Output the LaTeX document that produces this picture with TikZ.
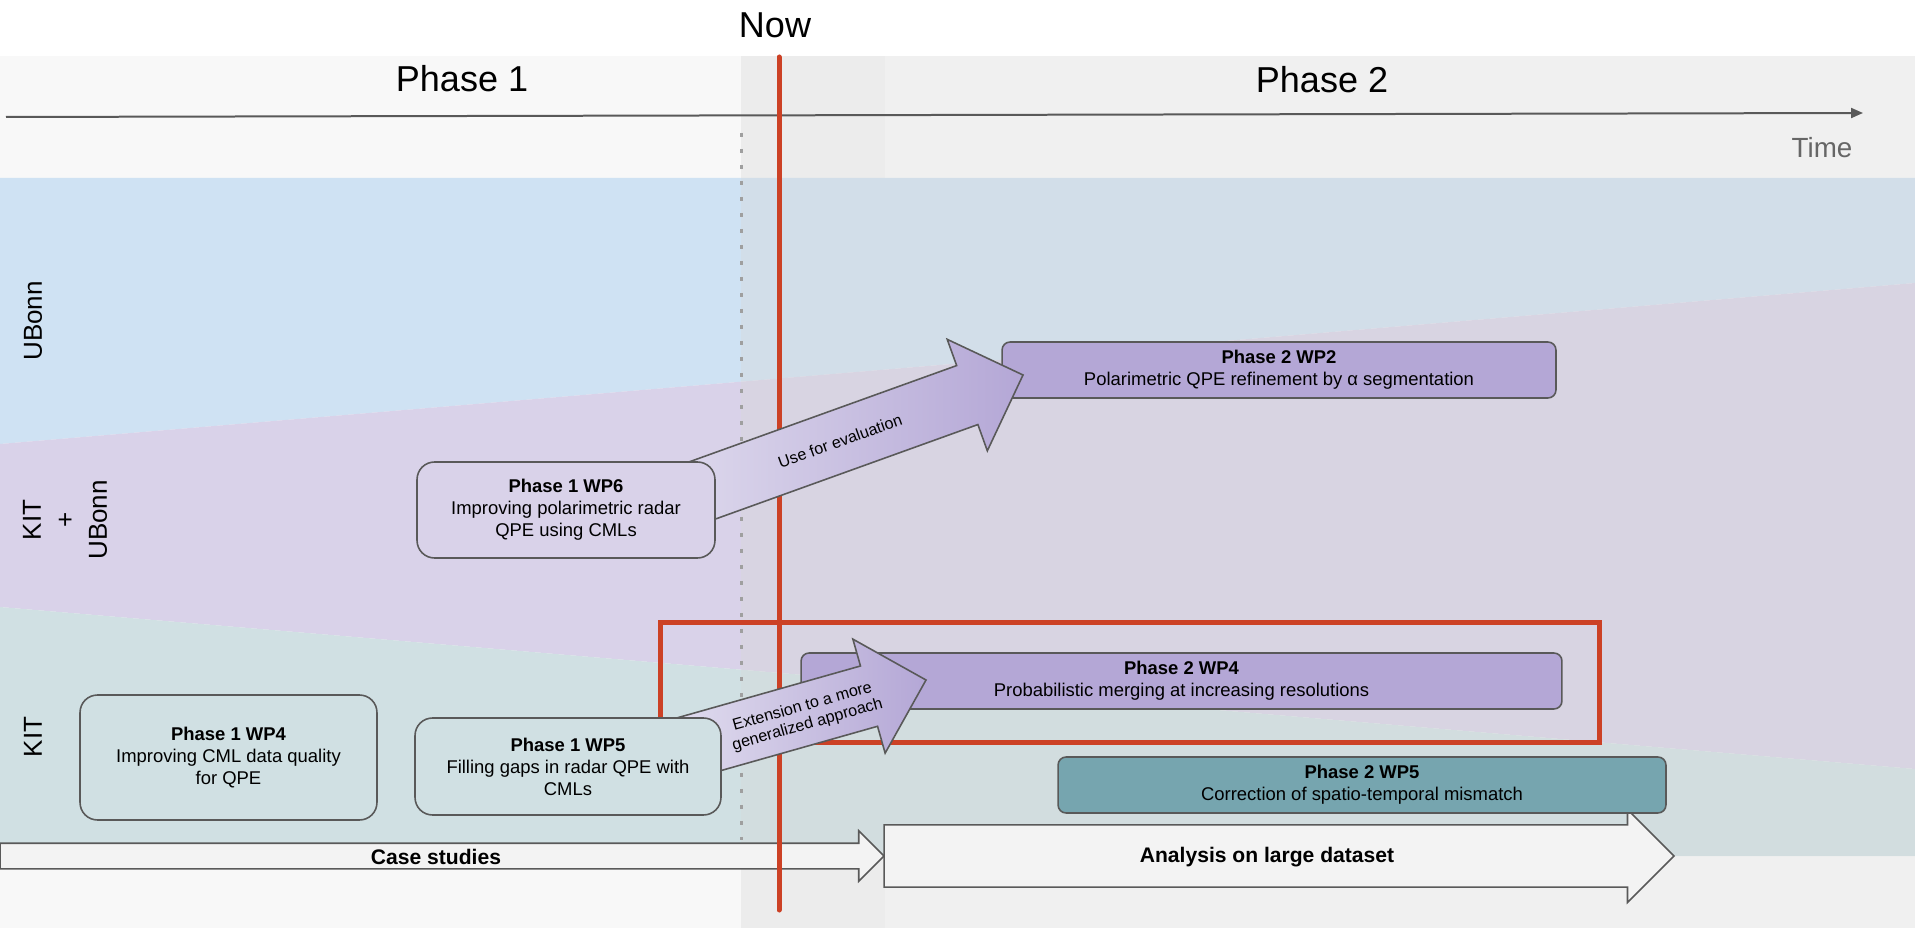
\documentclass[tikz,border=0pt]{standalone}
\usepackage{fontspec}
\setmainfont{Liberation Sans}
\usepackage{xcolor}
\usepackage{tikz}
\usetikzlibrary{shapes.arrows,arrows.meta}

\definecolor{edgegray}{HTML}{595959}
\definecolor{phaseone}{HTML}{F8F8F8}
\definecolor{phasetwo}{HTML}{D8D8D8}
\definecolor{bonnblue}{HTML}{CFE2F3}
\definecolor{mixlilac}{HTML}{D9D2E9}
\definecolor{kitteal}{HTML}{D0E0E3}
\definecolor{wplilac}{HTML}{B4A7D6}
\definecolor{paleliac}{HTML}{E0DCEE}
\definecolor{wpteal}{HTML}{76A5AF}
\definecolor{nowred}{HTML}{CC4125}
\definecolor{spangray}{HTML}{F3F3F3}
\definecolor{timegray}{HTML}{666666}

\begin{document}
\begin{tikzpicture}[x=0.02cm,y=-0.02cm,
        boxfont/.style={font=\fontsize{10.5}{12.5}\selectfont},
        p1box/.style={boxfont,draw=edgegray,line width=0.9pt,rounded corners=0.35cm,align=center,inner sep=0pt},
        p2box/.style={boxfont,draw=edgegray,line width=0.9pt,rounded corners=0.16cm,align=center,inner sep=0pt,minimum height=1.12cm},
        bigarrow/.style={single arrow,anchor=tip,draw=edgegray,line width=0.9pt,left color=paleliac,right color=wplilac,
            inner xsep=0pt,inner ysep=0.265cm,outer sep=0pt,minimum width=2.37cm},
        spanarrow/.style={single arrow,anchor=tip,draw=edgegray,line width=0.9pt,fill=spangray,inner xsep=0pt,outer sep=0pt},
        lane/.style={rotate=90,align=center,font=\fontsize{14.8}{18.8}\selectfont},
        title/.style={font=\fontsize{20.5}{24}\selectfont},
        arrowtext/.style={align=center,font=\fontsize{9.2}{10.5}\selectfont},
        spantext/.style={font=\fontsize{12}{14}\selectfont\bfseries}]
        % Background
        \fill[white] (0,0) rectangle (1915,928);
        \useasboundingbox (0,0) rectangle (1915,928);
        \fill[phaseone] (0,56) rectangle (885,928);
        % Lanes
        \fill[bonnblue] (0,178) -- (1915,178) -- (1915,283) -- (0,444) -- cycle;
        \fill[mixlilac] (0,444) -- (1915,283) -- (1915,769) -- (0,607) -- cycle;
        \fill[kitteal] (0,607) -- (1915,769) -- (1915,856) -- (0,856) -- cycle;
        \fill[phasetwo,opacity=0.36] (741,56) rectangle (1915,928);
        % Header
        \node[title] (now) at (775,25) {Now};
        \node[title] (phase1) at (462,79) {Phase 1};
        \node[title] (phase2) at (1322,80) {Phase 2};
        \node[font=\fontsize{15.8}{18}\selectfont,text=timegray] (time) at (1822,148) {Time};
        \coordinate (t0) at (6,117);
        \coordinate (t1) at (1863,113);
        \draw[edgegray,line width=0.04cm,-{Triangle[length=0.24cm,width=0.2cm]}] (t0) -- (t1);
        % Lane labels
        \node[lane] (ubonn) at (33,321) {UBonn};
        \node[lane] (kitbonn) at (65,520) {KIT\\+\\UBonn};
        \node[lane] (kit) at (33,737) {KIT};
        % Phase border
        \coordinate (dot0) at (741,133);
        \coordinate (dot1) at (741,840);
        \draw[gray!75,line width=0.06cm,dash pattern=on 0.08cm off 0.24cm] (dot0) -- (dot1);
        % Span arrows
        \node[spanarrow,inner ysep=0.24cm,minimum width=0.98cm,minimum height=17.68cm] (case) at (884,856) {};
        \node[spanarrow,inner ysep=0.49cm,minimum width=1.86cm,minimum height=15.8cm] (large) at (1674,856) {};
        \node[spantext] (casetext) at (436,857) {Case studies};
        \node[spantext] (largetext) at (1267,857) {Analysis on large dataset};
        % Phase 2 WP5
        \node[p2box,fill=wpteal,minimum width=12.16cm] (p2wp5) at (1362,785)
            {\textbf{Phase 2 WP5}\\Correction of spatio-temporal mismatch};
        % Now
        \coordinate (now0) at (779,57);
        \coordinate (now1) at (779,910);
        \draw[nowred,line width=0.1cm,line cap=round] (now0) -- (now1);
        \draw[nowred,line width=0.1cm] (660,622) rectangle (1599,742);
        % Phase 2 WP2 and WP4
        \node[p2box,fill=wplilac,minimum width=11.08cm] (p2wp2) at (1279,370)
            {\textbf{Phase 2 WP2}\\Polarimetric QPE refinement by α segmentation};
        \node[p2box,fill=wplilac,minimum width=15.22cm] (p2wp4) at (1181.5,681)
            {\textbf{Phase 2 WP4}\\Probabilistic merging at increasing resolutions};
        % Block arrows
        \node[bigarrow,rotate=19.8,minimum height=7.66cm] (usearrow) at (1023,375) {};
        \node[bigarrow,rotate=15.8,minimum height=5cm] (extarrow) at (926,680) {};
        % Phase 1 work packages
        \node[p1box,fill=mixlilac,minimum width=5.96cm,minimum height=1.92cm] (p1wp6) at (566,510)
            {\textbf{Phase 1 WP6}\\Improving polarimetric radar\\QPE using CMLs};
        \node[p1box,fill=kitteal,minimum width=5.94cm,minimum height=2.5cm] (p1wp4) at (228.5,757.5)
            {\textbf{Phase 1 WP4}\\Improving CML data quality\\for QPE};
        \node[p1box,fill=kitteal,minimum width=6.12cm,minimum height=1.94cm] (p1wp5) at (568,766.5)
            {\textbf{Phase 1 WP5}\\Filling gaps in radar QPE with\\CMLs};
        % Arrow labels
        \node[arrowtext,rotate=19.8] (usetext) at (840,441) {Use for evaluation};
        \node[arrowtext,rotate=15.8] (exttext) at (805,716) {Extension to a more\\generalized approach};
    \end{tikzpicture}
\end{document}
